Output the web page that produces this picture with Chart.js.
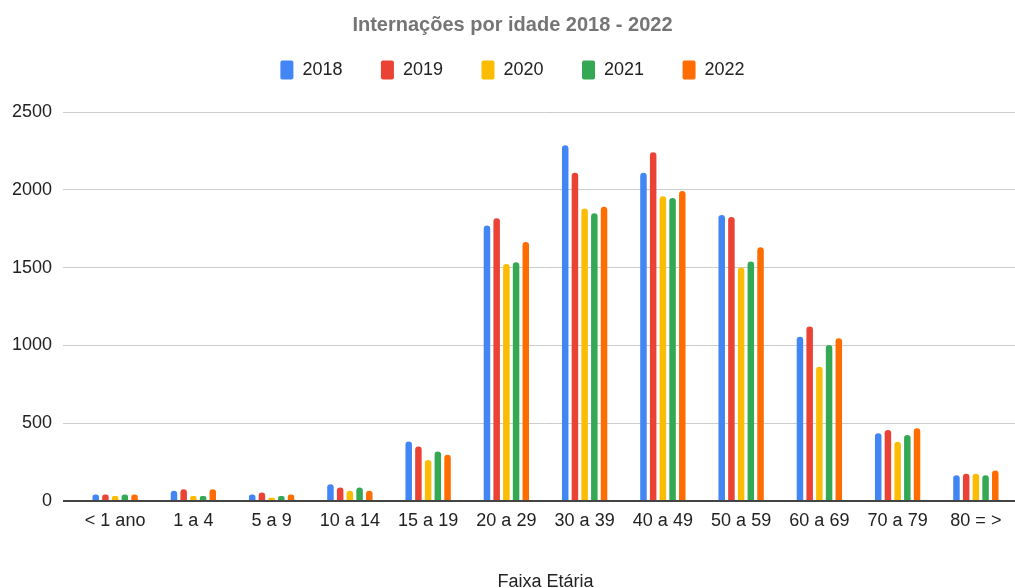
<!DOCTYPE html>
<html>
<head>
<meta charset="utf-8">
<script src="https://cdn.jsdelivr.net/npm/chart.js@4"></script>
<style>
  html, body { margin: 0; padding: 0; background: #fff; }
  #wrap { width: 1015px; height: 588px; }
</style>
</head>
<body>
<div id="wrap"><canvas id="chart"></canvas></div>
<script>
const FAIXAS = [ '< 1 ano', '1 a 4', '5 a 9', '10 a 14', '15 a 19', '20 a 29', '30 a 39', '40 a 49', '50 a 59', '60 a 69', '70 a 79', '80 = >' ];
const ANOS = [ '2018', '2019', '2020', '2021', '2022' ];
const CORES = [ '#4285F4', '#EA4335', '#FBBC04', '#34A853', '#FF6D01' ];

const V2018 = [ 42, 66, 42, 108, 383, 1771, 2286, 2109, 1838, 1055, 435, 165 ];
const V2019 = [ 42, 76, 55, 87, 351, 1817, 2109, 2242, 1825, 1122, 456, 175 ];
const V2020 = [ 32, 32, 21, 66, 264, 1523, 1880, 1958, 1500, 863, 380, 175 ];
const V2021 = [ 42, 32, 32, 87, 318, 1534, 1849, 1947, 1540, 1002, 424, 165 ];
const V2022 = [ 42, 76, 42, 66, 297, 1664, 1891, 1992, 1631, 1046, 467, 196 ];

const SERIES = [ V2018, V2019, V2020, V2021, V2022 ];

Chart.defaults.font.family = '"Liberation Sans", Arial, sans-serif';
Chart.defaults.color = '#222';

// extra room between legend and plot
let legendSpace = {
  id: 'legendSpace',
  beforeInit(chart) {
    const fit = chart.legend.fit;
    chart.legend.fit = function() {
      fit.bind(chart.legend)();
      this.height += 22.5;
    };
  }
};

let datasets = ANOS.map(function(ano, i) {
  return {
    label: ano,
    data: SERIES[i],
    backgroundColor: CORES[i],
    borderColor: CORES[i],
    borderWidth: 0,
    borderRadius: 4,
    borderSkipped: 'bottom',
    categoryPercentage: 0.62,
    barPercentage: 0.67,
  };
});

new Chart(document.getElementById('chart'), {
  type: 'bar',
  data: { labels: FAIXAS, datasets: datasets },
  plugins: [ legendSpace ],
  options: {
    responsive: true,
    maintainAspectRatio: false,
    animation: false,
    layout: { padding: { left: 10, right: 0, top: 0, bottom: 0 } },
    plugins: {
      title: {
        display: true,
        text: 'Internações por idade 2018 - 2022',
        color: '#757575',
        font: { size: 20, weight: 'bold' },
        padding: { top: 13, bottom: -15 },
      },
      legend: {
        labels: {
          boxWidth: 13,
          boxHeight: 19,
          useBorderRadius: true,
          borderRadius: 2,
          padding: 38.5,
          color: '#222',
          font: { size: 18 },
        },
      },
      tooltip: { enabled: false },
    },
    scales: {
      x: {
        grid: { display: false, drawTicks: false },
        border: { display: false },
        ticks: { autoSkip: false, maxRotation: 0, padding: 9, color: '#222', font: { size: 18 } },
        title: {
          display: true,
          text: 'Faixa Etária',
          color: '#222',
          font: { size: 18 },
          padding: { top: 30.6, bottom: -4.8 },
        },
      },
      y: {
        min: 0,
        max: 2500,
        afterFit: function(scale) { scale.width = 66; },
        ticks: {
          stepSize: 500,
          padding: 11,
          color: '#222',
          font: { size: 18 },
          callback: function(value) { return String(value); },
        },
        border: { display: false },
        grid: {
          drawTicks: true,
          tickLength: 13,
          color: function(ctx) { return ctx.tick && ctx.tick.value === 0 ? '#444' : '#ccc'; },
          lineWidth: function(ctx) { return ctx.tick && ctx.tick.value === 0 ? 2 : 1; },
        },
      },
    },
  },
});
</script>
</body>
</html>
